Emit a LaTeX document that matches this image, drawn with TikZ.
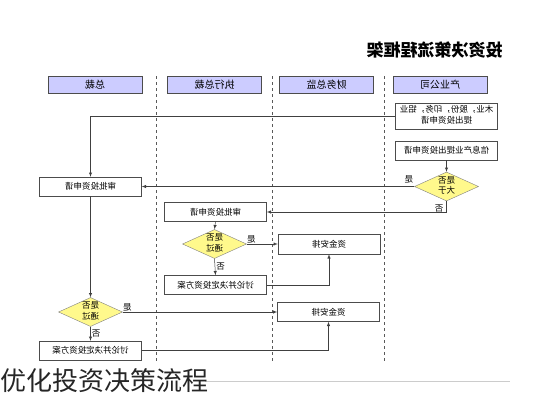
\documentclass[tikz,border=0pt]{standalone}
\usepackage{fontspec}
\usepackage{graphicx}
\setmainfont{Noto Sans CJK SC}
\usetikzlibrary{shapes.geometric}
\newcommand{\flip}[1]{\reflectbox{#1}}
\newcommand{\fliptwo}[2]{\reflectbox{\begin{tabular}{@{}c@{}}#1\\#2\end{tabular}}}

\begin{document}
\begin{tikzpicture}[x=1pt,y=-1pt,>=latex]
		\tikzstyle {lane head} = [draw=black!70, fill=blue!20, minimum width=94pt, minimum height=17pt, inner sep=0pt, font=\fontsize{10}{12}\selectfont]
		\tikzstyle {step box} = [draw=black!70, fill=white, minimum width=102pt, minimum height=19pt, inner sep=1pt, font=\fontsize{8.5}{11}\selectfont]
		\tikzstyle {check} = [diamond, draw=black!50, fill=yellow!45, aspect=2.2, inner sep=0pt, minimum width=64pt, minimum height=29pt, font=\fontsize{8.5}{10.5}\selectfont]
		\tikzstyle {flow} = [draw=black!75, line width=0.5pt, ->]
		\tikzstyle {lane line} = [draw=black!65, dashed, line width=0.6pt]
		\tikzstyle {answer} = [font=\fontsize{8.5}{10}\selectfont, inner sep=1pt]

		\useasboundingbox[fill=white] (0,0) rectangle (533,400);

		% title and lanes
		\node[font=\bfseries\fontsize{17}{20}\selectfont] (title) at (434.5,50) {\flip{投资决策流程框架}};

		\node[lane head] (president) at (95,84.5) {\flip{总裁}};
		\node[lane head] (ceo) at (214.5,84.5) {\flip{执行总裁}};
		\node[lane head] (cfo) at (326.5,84.5) {\flip{财务总监}};
		\node[lane head] (company) at (440,84.5) {\flip{产业公司}};

		\draw[lane line] (156,76) -- (156,362);
		\draw[lane line] (272,76) -- (272,362);
		\draw[lane line] (384,76) -- (384,362);

		% industry company
		\node[step box, minimum height=26pt] (apply) at (446.5,116) {\fliptwo{木业，股份，印务，铝业}{提出投资申请}};
		\node[step box] (infoapply) at (446.5,150.5) {\flip{信息产业提出投资申请}};
		\node[check] (bigger) at (446.5,186.5) {\fliptwo{是否}{大于}};

		% president
		\node[step box] (pres review) at (90.5,186.5) {\flip{审批投资申请}};
		\node[check] (pres pass) at (90.5,312) {\fliptwo{是否}{通过}};
		\node[step box] (pres plan) at (90.5,350.5) {\flip{讨论并决定投资方案}};

		% executive
		\node[step box] (ceo review) at (215.5,212) {\flip{审批投资申请}};
		\node[check] (ceo pass) at (214.5,244) {\fliptwo{是否}{通过}};
		\node[step box] (ceo plan) at (215.5,285) {\flip{讨论并决定投资方案}};

		% finance
		\node[step box, minimum height=20pt] (funds1) at (329,244) {\flip{资金安排}};
		\node[step box] (funds2) at (328.5,312) {\flip{资金安排}};

		% connectors
		\draw[flow] (apply.west) -| (pres review.north);
		\draw[flow] (infoapply.south) -- (bigger.north);
		\draw[flow] (bigger.west) -- node[answer, pos=0.02, above=2pt] (yes1) {\flip{是}} (pres review.east);
		\draw[flow] (bigger.south) |- node[answer, pos=0.35, left=2pt] (no1) {\flip{否}} (ceo review.east);

		\draw[flow] (ceo review.south) -- (ceo pass.north);
		\draw[flow] (ceo pass.east) -- node[answer, pos=0.15, above] (yes2) {\flip{是}} (funds1.west);
		\draw[flow] (ceo pass.south) -- node[answer, right] (no2) {\flip{否}} (ceo plan.north);
		\draw[flow] (ceo plan.east) -| (funds1.south);

		\draw[flow] (pres review.south) -- (pres pass.north);
		\draw[flow] (pres pass.east) -- node[answer, pos=0.03, above] (yes3) {\flip{是}} (funds2.west);
		\draw[flow] (pres pass.south) -- node[answer, right] (no3) {\flip{否}} (pres plan.north);
		\draw[flow] (pres plan.east) -| (funds2.south);

		% caption
		\draw[black!20, line width=0.8pt] (205,381) -- (510,381);
		\node[anchor=base west, inner sep=0pt, text=black!85, font=\fontsize{26}{30}\selectfont] (caption) at (0,390) {优化投资决策流程};
\end{tikzpicture}
\end{document}
